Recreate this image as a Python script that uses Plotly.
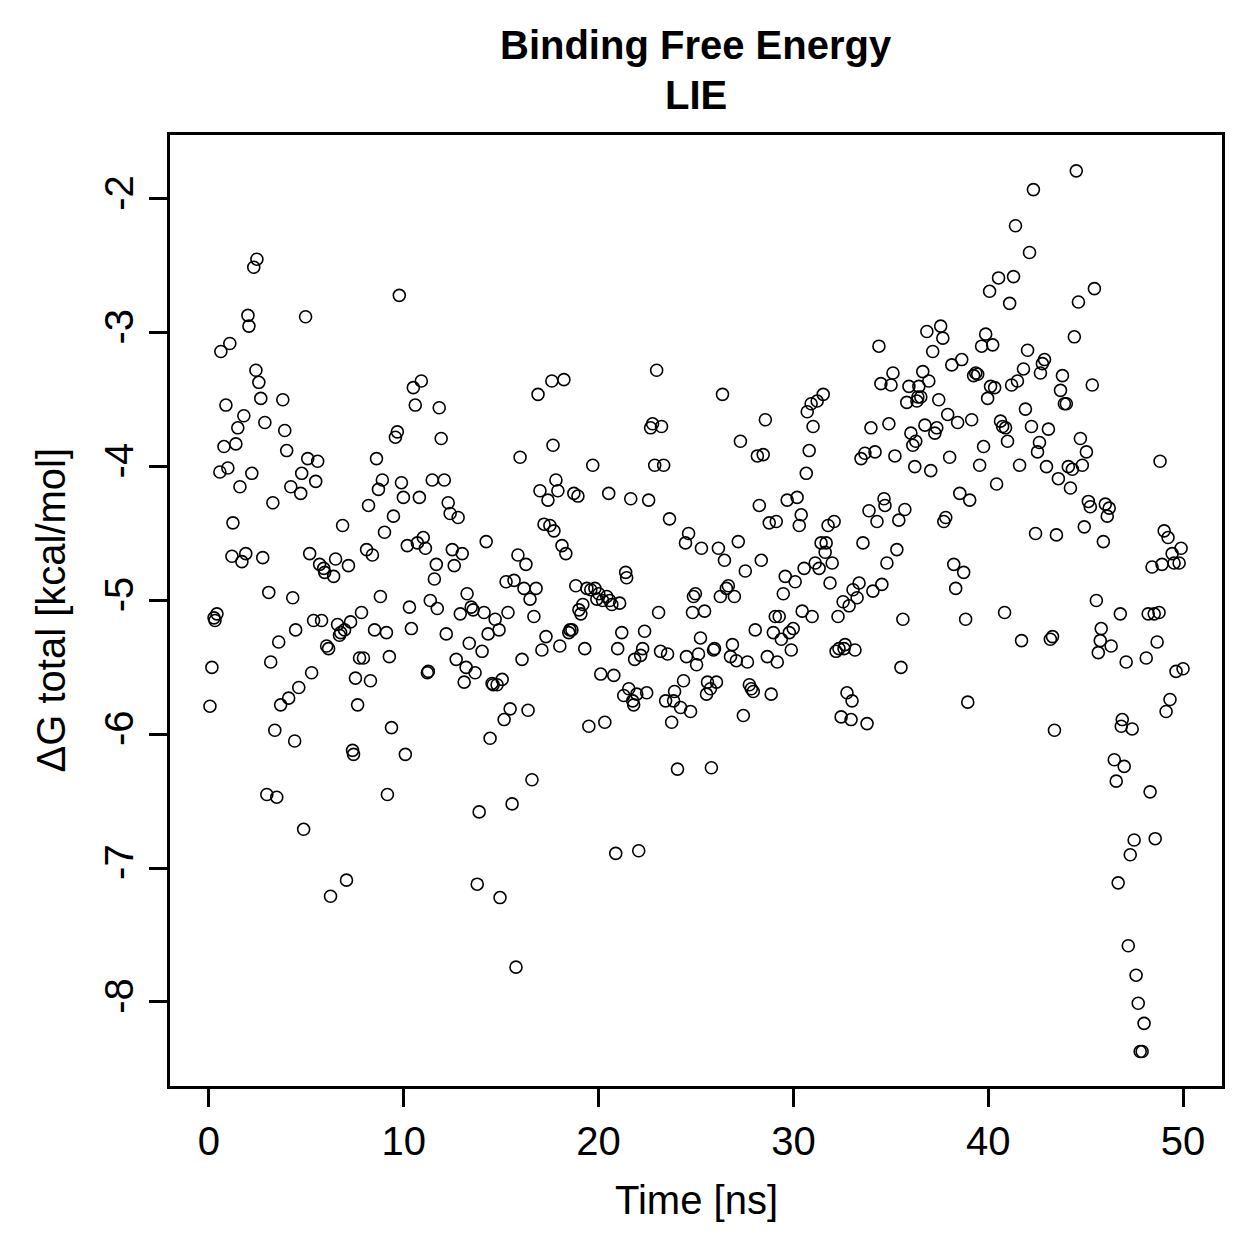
import plotly.graph_objects as go

time_ns = [
0.05,0.15,0.26,0.31,0.41,0.56,0.61,0.77,0.87,0.97,1.07,1.18,1.23,1.38,1.48,1.59,1.69,1.79,1.89,2.00,
2.05,2.20,2.30,2.41,2.46,2.56,2.66,2.76,2.87,2.97,3.07,3.17,3.28,3.38,3.48,3.58,3.68,3.79,3.89,3.99,
4.09,4.20,4.30,4.40,4.45,4.61,4.71,4.76,4.86,4.96,5.07,5.17,5.27,5.37,5.48,5.58,5.68,5.78,5.89,5.94,
6.04,6.14,6.24,6.40,6.50,6.60,6.70,6.76,6.86,6.96,7.06,7.16,7.27,7.37,7.42,7.52,7.63,7.73,7.83,7.93,
8.09,8.19,8.29,8.39,8.50,8.60,8.70,8.80,8.90,9.01,9.11,9.16,9.26,9.37,9.47,9.57,9.67,9.77,9.88,9.98,
10.08,10.18,10.29,10.39,10.49,10.59,10.70,10.80,10.90,11.00,11.11,11.21,11.26,11.36,11.46,11.57,11.67,11.72,11.82,11.92,
12.08,12.18,12.28,12.38,12.49,12.59,12.69,12.79,12.90,13.00,13.10,13.20,13.25,13.36,13.46,13.56,13.66,13.77,13.87,14.02,
14.12,14.23,14.33,14.43,14.53,14.59,14.69,14.79,14.89,14.94,15.05,15.15,15.25,15.35,15.46,15.56,15.66,15.76,15.86,15.97,
16.07,16.17,16.27,16.38,16.48,16.58,16.68,16.79,16.89,16.99,17.09,17.20,17.30,17.40,17.50,17.60,17.66,17.71,17.81,17.91,
18.01,18.12,18.22,18.32,18.47,18.53,18.63,18.73,18.83,18.94,18.99,19.09,19.19,19.29,19.40,19.50,19.60,19.70,19.81,19.91,
20.01,20.11,20.21,20.32,20.42,20.52,20.57,20.68,20.78,20.88,20.98,21.08,21.19,21.29,21.39,21.44,21.55,21.65,21.75,21.80,
21.85,21.96,22.06,22.16,22.26,22.36,22.47,22.57,22.67,22.77,22.88,22.98,23.08,23.18,23.23,23.34,23.44,23.54,23.64,23.75,
23.85,23.90,24.05,24.21,24.36,24.46,24.51,24.62,24.72,24.82,24.87,24.97,25.03,25.13,25.23,25.28,25.44,25.54,25.59,25.74,
25.79,25.90,25.95,26.05,26.15,26.25,26.36,26.46,26.56,26.66,26.77,26.87,26.97,27.07,27.17,27.28,27.43,27.53,27.64,27.74,
27.84,27.94,28.04,28.15,28.25,28.35,28.45,28.56,28.66,28.76,28.86,28.97,29.07,29.12,29.17,29.27,29.38,29.48,29.58,29.68,
29.79,29.89,29.99,30.09,30.19,30.30,30.40,30.45,30.55,30.66,30.71,30.81,30.91,30.96,31.01,31.12,31.22,31.32,31.42,31.53,
31.63,31.68,31.78,31.88,31.99,32.09,32.19,32.29,32.34,32.45,32.55,32.60,32.65,32.75,32.86,32.96,33.01,33.06,33.16,33.27,
33.37,33.47,33.57,33.67,33.78,33.88,33.98,34.08,34.19,34.29,34.39,34.49,34.54,34.65,34.70,34.80,34.90,35.01,35.11,35.21,
35.31,35.41,35.52,35.62,35.72,35.82,35.93,36.03,36.13,36.23,36.28,36.34,36.39,36.44,36.54,36.64,36.75,36.85,36.95,37.05,
37.15,37.26,37.36,37.46,37.56,37.67,37.72,37.82,37.92,38.02,38.13,38.23,38.33,38.43,38.54,38.64,38.74,38.84,38.95,39.05,
39.15,39.25,39.36,39.46,39.56,39.66,39.76,39.87,39.97,40.07,40.12,40.23,40.33,40.43,40.53,40.63,40.74,40.84,40.89,40.99,
41.10,41.20,41.30,41.40,41.50,41.61,41.71,41.81,41.91,42.02,42.12,42.22,42.32,42.43,42.53,42.63,42.68,42.78,42.89,42.99,
43.09,43.19,43.30,43.40,43.50,43.60,43.71,43.81,43.91,44.01,44.11,44.22,44.32,44.42,44.52,44.63,44.73,44.83,44.93,45.04,
45.14,45.24,45.34,45.45,45.55,45.65,45.75,45.80,45.91,46.01,46.11,46.21,46.31,46.47,46.57,46.67,46.78,46.83,46.88,46.98,
47.08,47.19,47.29,47.39,47.49,47.59,47.70,47.80,47.90,48.00,48.11,48.21,48.31,48.41,48.52,48.57,48.67,48.77,48.82,48.92,
49.03,49.13,49.23,49.33,49.44,49.54,49.64,49.80,49.90,50.00,
]

dG_total = [
-5.79,-5.50,-5.13,-5.15,-5.10,-4.04,-3.14,-3.85,-3.54,-4.01,-3.08,-4.67,-4.42,-3.83,-3.71,-4.15,-4.71,-3.62,-4.65,-2.87,
-2.95,-4.05,-2.51,-3.28,-2.45,-3.37,-3.49,-4.68,-3.67,-6.45,-4.94,-5.46,-4.27,-5.97,-6.47,-5.31,-5.78,-3.50,-3.73,-3.88,
-5.73,-4.15,-4.98,-6.05,-5.22,-5.65,-4.20,-4.05,-6.71,-2.88,-3.94,-4.65,-5.54,-5.15,-4.11,-3.96,-4.73,-5.15,-4.76,-4.79,
-5.34,-5.36,-7.21,-4.82,-4.69,-5.18,-5.26,-5.24,-4.44,-5.22,-7.09,-4.74,-5.16,-6.12,-6.15,-5.58,-5.78,-5.43,-5.09,-5.43,
-4.62,-4.29,-5.60,-4.66,-5.22,-3.94,-4.17,-4.97,-4.10,-4.49,-5.24,-6.45,-5.42,-5.95,-4.37,-3.78,-3.74,-2.72,-4.12,-4.23,
-6.15,-4.59,-5.05,-5.21,-3.41,-3.54,-4.57,-4.23,-3.36,-4.53,-4.61,-5.54,-5.53,-5.00,-4.10,-4.84,-4.73,-5.06,-3.56,-3.79,
-4.10,-5.25,-4.27,-4.35,-4.62,-4.74,-5.44,-4.38,-5.10,-4.65,-5.61,-5.50,-4.95,-5.32,-5.05,-5.07,-5.54,-7.12,-6.58,-5.38,
-5.09,-4.56,-5.25,-6.03,-5.62,-5.63,-5.14,-5.63,-5.22,-7.22,-5.59,-5.89,-4.86,-5.09,-5.81,-6.52,-4.85,-7.74,-4.66,-3.93,
-5.44,-4.91,-4.73,-5.82,-4.99,-6.34,-5.12,-4.91,-3.46,-4.18,-5.37,-4.43,-5.27,-4.25,-4.44,-3.36,-3.84,-4.48,-4.10,-4.18,
-5.34,-4.59,-3.35,-4.65,-5.24,-5.22,-5.22,-4.20,-4.89,-4.22,-5.07,-5.10,-5.03,-5.36,-4.91,-5.94,-4.92,-3.99,-4.91,-4.99,
-4.95,-5.55,-5.00,-5.91,-4.97,-4.20,-5.00,-5.03,-5.56,-6.89,-5.36,-5.02,-5.24,-5.71,-4.79,-4.83,-5.66,-4.24,-5.75,-5.78,
-5.44,-5.70,-6.87,-5.41,-5.36,-5.23,-5.69,-4.25,-3.71,-3.68,-3.99,-3.28,-5.09,-5.38,-3.70,-3.99,-5.75,-5.40,-4.39,-5.91,
-5.75,-5.68,-6.26,-5.80,-5.60,-4.57,-5.42,-4.50,-5.83,-5.09,-4.97,-4.95,-5.48,-5.40,-5.28,-4.61,-5.08,-5.70,-5.61,-5.66,
-6.25,-5.37,-5.36,-5.61,-4.61,-4.97,-3.46,-4.70,-4.91,-4.89,-5.42,-5.33,-4.97,-5.45,-4.56,-3.81,-5.86,-4.78,-5.46,-5.63,
-5.66,-5.68,-5.22,-3.92,-4.29,-4.70,-3.91,-3.65,-5.42,-4.42,-5.70,-5.24,-5.12,-4.41,-5.46,-5.12,-5.29,-4.95,-4.82,-4.25,
-5.24,-5.37,-5.21,-4.86,-4.23,-4.44,-4.36,-5.08,-4.76,-4.05,-3.59,-3.88,-3.53,-5.12,-3.70,-4.72,-3.51,-4.76,-4.57,-3.46,
-4.64,-4.57,-4.44,-4.87,-4.72,-4.41,-5.38,-5.12,-5.36,-5.87,-5.01,-5.36,-5.33,-5.69,-5.04,-5.89,-5.75,-4.92,-5.37,-4.98,
-4.87,-3.94,-4.57,-3.90,-5.92,-4.33,-3.71,-4.93,-3.89,-4.41,-3.10,-3.38,-4.88,-4.24,-4.29,-4.72,-3.68,-3.39,-3.30,-3.92,
-4.62,-4.40,-5.50,-5.14,-4.32,-3.52,-3.40,-3.75,-3.84,-4.00,-3.81,-3.51,-3.48,-3.40,-3.48,-3.29,-3.69,-2.99,-3.36,-4.03,
-3.14,-3.75,-3.71,-3.50,-2.95,-3.04,-4.41,-4.38,-3.61,-3.93,-3.24,-4.73,-4.91,-3.67,-4.20,-3.20,-4.79,-5.14,-5.76,-4.25,
-3.65,-3.32,-3.30,-3.31,-3.99,-3.10,-3.85,-3.01,-3.49,-2.69,-3.40,-3.09,-3.41,-4.13,-2.59,-3.66,-3.70,-5.09,-3.71,-3.81,
-2.78,-3.39,-2.58,-2.20,-3.36,-3.99,-5.30,-3.27,-3.57,-3.13,-2.40,-3.70,-1.93,-4.50,-3.89,-3.82,-3.30,-3.23,-3.20,-4.00,
-3.72,-5.29,-5.27,-5.97,-4.51,-4.09,-3.43,-3.32,-3.53,-3.53,-4.00,-4.16,-4.02,-3.03,-1.79,-2.77,-3.79,-3.99,-4.45,-3.89,
-4.26,-4.30,-3.39,-2.67,-5.00,-5.39,-5.30,-5.21,-4.56,-4.28,-4.37,-4.31,-5.34,-6.19,-6.35,-7.11,-5.10,-5.94,-5.89,-6.24,
-5.46,-7.58,-6.90,-5.96,-6.79,-7.80,-8.01,-8.37,-8.37,-8.16,-5.43,-5.10,-6.43,-4.75,-5.10,-6.78,-5.31,-5.09,-3.96,-4.73,
-4.48,-5.83,-4.53,-5.74,-4.65,-4.72,-5.53,-4.72,-4.61,-5.51,
]

x_ticks = [0, 10, 20, 30, 40, 50]
y_ticks = [-8, -7, -6, -5, -4, -3, -2]

FONT = "Liberation Sans, Arial, Helvetica, sans-serif"

fig = go.Figure()
fig.add_trace(go.Scatter(
    x=time_ns, y=dG_total, mode="markers",
    marker=dict(symbol="circle-open", size=12, color="black", line=dict(width=1.6, color="black")),
    showlegend=False, hoverinfo="x+y",
))

axis_common = dict(
    showgrid=False, zeroline=False, showline=True, mirror=True,
    linecolor="black", linewidth=3,
    ticks="outside", ticklen=18, tickwidth=3, tickcolor="black",
    tickfont=dict(family=FONT, size=40, color="black"),
)

fig.update_xaxes(range=[-2, 52], tickvals=x_ticks, ticktext=[str(v) for v in x_ticks], **axis_common)
fig.update_yaxes(range=[-8.628, -1.522], tickvals=y_ticks, ticktext=[str(v) for v in y_ticks],
                 tickangle=-90, **axis_common)

fig.update_layout(
    width=1259, height=1259,
    margin=dict(l=170, r=37, t=135, b=173),
    paper_bgcolor="white", plot_bgcolor="white",
    font=dict(family=FONT, color="black"),
    annotations=[
        dict(text="<b>Binding Free Energy</b>", x=0.5, y=45, xref="paper", yref="paper",
             showarrow=False, font=dict(size=40, family=FONT)),
        dict(text="<b>LIE</b>", x=0.5, y=95, xref="paper", yref="paper",
             showarrow=False, font=dict(size=40, family=FONT)),
        dict(text="Time [ns]", x=0.5, y=1200, xref="paper", yref="paper",
             showarrow=False, font=dict(size=40, family=FONT)),
        dict(text="ΔG total [kcal/mol]", x=50, y=0.5, xref="paper", yref="paper",
             showarrow=False, textangle=-90, font=dict(size=40, family=FONT)),
    ],
)

# convert pixel-placed annotation anchors into paper coordinates
pw = 1259 - 170 - 37
ph = 1259 - 135 - 173
anns = list(fig.layout.annotations)
for a in anns[:3]:
    a.y = (1259 - 173 - a.y) / ph
    a.yanchor = "middle"
a = anns[3]
a.x = (a.x - 170) / pw
a.xanchor = "center"
fig.layout.annotations = anns

fig.write_html("out.html")
